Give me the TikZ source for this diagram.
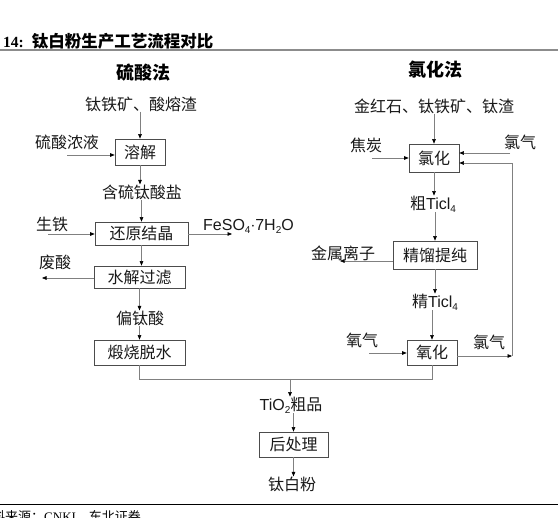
\documentclass[tikz,border=0pt]{standalone}
\usepackage{fontspec}
\setmainfont{Liberation Sans}
\newfontfamily\cjk{Noto Sans CJK SC}
\newfontfamily\serif{Liberation Serif}
\usetikzlibrary{arrows.meta}
\newcommand\lat[1]{{\fontspec{Liberation Sans}#1}}
\newcommand\subs[1]{\raisebox{-3pt}{\fontsize{10}{10}\selectfont #1}}
\begin{document}
\begin{tikzpicture}[x=1pt,y=-1pt,
  body/.style={font=\cjk\fontsize{16}{18}\selectfont, inner sep=0pt, text=black!90},
  stepbox/.style={body, draw=black!70, line width=0.7pt},
  conn/.style={draw=black!50, line width=0.6pt},
  arr/.style={conn, -{Triangle[length=4.5pt,width=3.6pt,color=black]}},
  head/.style={font=\cjk\bfseries\fontsize{18}{20}\selectfont, inner sep=0pt},
]
\useasboundingbox (0,0) rectangle (558,518);
% title and rules
\node[anchor=west, inner sep=0pt] (title) at (3,41.5) {{\serif\bfseries\fontsize{15.5}{16}\selectfont 14:}\hspace{8pt}{\cjk\bfseries\fontsize{16.5}{17}\selectfont 钛白粉生产工艺流程对比}};
\draw[black!45, line width=2pt] (0,50.5) -- (558,50.5);
\draw[black, line width=0.8pt] (0,504.5) -- (558,504.5);
\node[anchor=north west, inner sep=0pt] (src) at (-21,510) {{\cjk\fontsize{13}{14}\selectfont 资料来源：}{\serif\fontsize{13}{14}\selectfont CNKI}{\cjk\fontsize{13}{14}\selectfont ，东北证券}};
% headings
\node[head] (h1) at (143,73) {硫酸法};
\node[head] (h2) at (435,70) {氯化法};
% left column
\node[body] (t1) at (141,104) {钛铁矿、酸熔渣};
\node[stepbox, minimum width=50pt, minimum height=26pt] (rj) at (140,152) {溶解};
\node[body] (lsny) at (67,142) {硫酸浓液};
\node[body] (hsl) at (142,192) {含硫钛酸盐};
\node[stepbox, minimum width=93pt, minimum height=23pt] (hy) at (141.5,233.5) {还原结晶};
\node[body] (st) at (52,224) {生铁};
\node[body, anchor=west] (fe) at (203,226) {\lat{FeSO\subs{4}$\cdot$7H\subs{2}O}};
\node[stepbox, minimum width=91pt, minimum height=22pt] (sj) at (139.5,277) {水解过滤};
\node[body] (fs) at (55,262) {废酸};
\node[body] (pt) at (140,318) {偏钛酸};
\node[stepbox, minimum width=91pt, minimum height=25pt] (ds) at (139.5,352.5) {煅烧脱水};
% right column
\node[body] (t2) at (434,106) {金红石、钛铁矿、钛渣};
\node[stepbox, minimum width=50pt, minimum height=28pt] (lh) at (434,158) {氯化};
\node[body] (jt) at (366,145) {焦炭};
\node[body] (lq1) at (520,142) {氯气};
\node[body] (ct) at (433,204) {粗\lat{Ticl\subs{4}}};
\node[stepbox, minimum width=84pt, minimum height=28pt] (jl) at (435,255) {精馏提纯};
\node[body] (js) at (343,253) {金属离子};
\node[body] (jc) at (435,302) {精\lat{Ticl\subs{4}}};
\node[stepbox, minimum width=50pt, minimum height=25pt] (yh) at (432,352.5) {氧化};
\node[body] (yq) at (362,340) {氧气};
\node[body] (lq2) at (489,342) {氯气};
% bottom
\node[body] (tio) at (291,405) {\lat{TiO\subs{2}}粗品};
\node[stepbox, minimum width=69pt, minimum height=25pt] (hc) at (293.5,444.5) {后处理};
\node[body] (tb) at (292,484) {钛白粉};
% coordinates
\coordinate (a1) at (67,155);
\coordinate (a2) at (48,234);
\coordinate (a3) at (232,234);
\coordinate (a4) at (42,278);
\coordinate (b1) at (372,158);
\coordinate (b2) at (510,153);
\coordinate (b3) at (340,261);
\coordinate (b4) at (369,353);
\coordinate (r1) at (512,356);
\coordinate (r2) at (512,163);
\coordinate (j) at (290,379);
% left connectors
\draw[arr] (t1.south -| rj.north) -- (rj.north);
\draw[arr] (a1) -- (a1 -| rj.west);
\draw[arr] (rj.south) -- (rj.south |- hsl.north);
\draw[arr] (hsl.south -| hy.north) -- (hy.north);
\draw[arr] (a2) -- (a2 -| hy.west);
\draw[arr] (a3 -| hy.east) -- (a3);
\draw[arr] (hy.south) -- (hy.south |- sj.north);
\draw[arr] (a4 -| sj.west) -- (a4);
\draw[arr] (sj.south) -- (sj.south |- pt.north);
\draw[arr] (pt.south -| ds.north) -- (ds.north);
% right connectors
\draw[arr] (t2.south -| lh.north) -- (lh.north);
\draw[arr] (b1) -- (b1 -| lh.west);
\draw[arr] (b2) -- (b2 -| lh.east);
\draw[arr] (lh.south) -- (lh.south |- ct.north);
\draw[arr] (ct.south -| jl.north) -- (jl.north);
\draw[arr] (b3 -| jl.west) -- (b3);
\draw[arr] (jl.south) -- (jl.south |- jc.north);
\draw[arr] (jc.south -| yh.north) -- (yh.north);
\draw[arr] (b4) -- (b4 -| yh.west);
\draw[arr] (r1 -| yh.east) -- (r1);
\draw[arr] (r1) -- (r2) -- (r2 -| lh.east);
% merge
\draw[conn] (ds.south) |- (j);
\draw[conn] (yh.south) |- (j);
\draw[arr] (j) -- (j |- tio.north);
\draw[arr] (tio.south -| hc.north) -- (hc.north);
\draw[arr] (hc.south) -- (hc.south |- tb.north);
\end{tikzpicture}
\end{document}
